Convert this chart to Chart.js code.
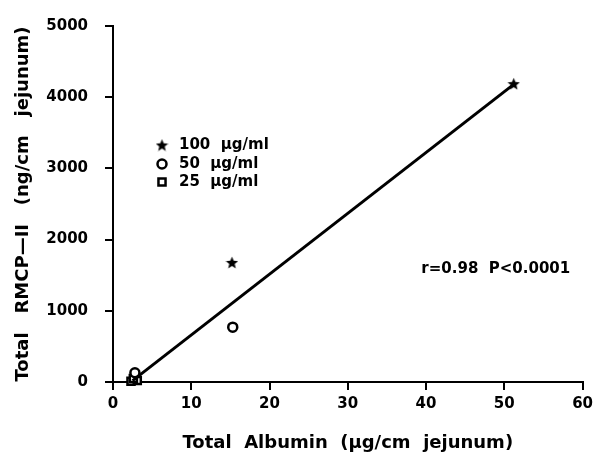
<!DOCTYPE html>
<html>
<head>
<meta charset="utf-8">
<script src="https://cdn.jsdelivr.net/npm/chart.js@4/dist/chart.umd.min.js"></script>
<style>
  html, body { margin: 0; padding: 0; background: #fff; }
</style>
</head>
<body>
<canvas id="albuminChart" width="598" height="457"></canvas>
<script>
// values
const dose100 = [{x: 15.2, y: 1680}, {x: 51.2, y: 4190}];
const dose50 = [{x: 2.8, y: 130}, {x: 15.3, y: 770}];
const dose25 = [{x: 2.3, y: 10}, {x: 3.1, y: 20}, {x: 2.6, y: 50}];
const fitLine = [{x: 2.5, y: 20}, {x: 51.2, y: 4180}];
const legendLabels = ['100  \u00b5g/ml', '50  \u00b5g/ml', '25  \u00b5g/ml'];
const xTicks = [0, 10, 20, 30, 40, 50, 60];
const yTicks = [0, 1000, 2000, 3000, 4000, 5000];
const statText = 'r=0.98  P<0.0001';

const FONT = 'DejaVu Sans';

function makeStar(size) {
    const c = document.createElement('canvas');
    c.width = c.height = size;
    const g = c.getContext('2d');
    g.fillStyle = '#000';
    g.beginPath();
    for (let i = 0; i < 10; i++) {
        const r = i % 2 ? size * 0.22 : size * 0.5;
        const a = -Math.PI / 2 + i * Math.PI / 5;
        g.lineTo(size / 2 + r * Math.cos(a), size * 0.55 + r * Math.sin(a));
    }
    g.closePath();
    g.fill();
    return c;
}
const starImg = makeStar(13);

const markerStyles = [
    {pointStyle: starImg, radius: 6, borderWidth: 0},
    {pointStyle: 'circle', radius: 4.5, borderWidth: 2.5},
    {pointStyle: 'rect', radius: 5, borderWidth: 2.5}
];

// legend and r/P text drawn inside the plot area
const insideText = {
    id: 'insideText',
    afterDraw(chart) {
        const ctx = chart.ctx;
        const area = chart.chartArea;
        ctx.save();
        ctx.textBaseline = 'middle';
        ctx.textAlign = 'left';
        ctx.font = 'bold 15px ' + FONT;
        const rowY = [119, 138, 156];
        legendLabels.forEach((lbl, i) => {
            const m = markerStyles[i];
            const px = area.left + 49, py = area.top + rowY[i];
            ctx.fillStyle = '#fff';
            ctx.strokeStyle = '#000';
            ctx.lineWidth = m.borderWidth;
            Chart.helpers.drawPoint(ctx, {
                pointStyle: m.pointStyle, radius: m.radius, rotation: 0,
                borderWidth: m.borderWidth
            }, px, py);
            ctx.fillStyle = '#000';
            ctx.fillText(lbl, area.left + 66, py);
        });
        const sx = chart.scales.x.getPixelForValue(39.4);
        const sy = chart.scales.y.getPixelForValue(1580);
        ctx.font = 'bold 15px ' + FONT;
        ctx.fillText(statText, sx, sy);
        ctx.restore();
    }
};

function pointSet(label, data, m) {
    return {
        label: label,
        data: data,
        pointStyle: m.pointStyle,
        pointRadius: m.radius,
        pointBorderWidth: m.borderWidth,
        pointBorderColor: '#000',
        pointBackgroundColor: m.pointStyle === 'circle' || m.pointStyle === 'rect' ? '#fff' : '#000',
        showLine: false,
        clip: false
    };
}

const tickFont = { family: FONT, weight: 'bold', size: 15 };

const ctx = document.getElementById('albuminChart').getContext('2d');
new Chart(ctx, {
    type: 'scatter',
    data: {
        datasets: [
            {
                label: 'fit',
                data: fitLine,
                showLine: true,
                borderColor: '#000',
                borderWidth: 3,
                pointRadius: 0,
                clip: false
            },
            pointSet(legendLabels[0], dose100, markerStyles[0]),
            pointSet(legendLabels[1], dose50, markerStyles[1]),
            pointSet(legendLabels[2], dose25, markerStyles[2])
        ]
    },
    options: {
        responsive: false,
        animation: false,
        devicePixelRatio: 1,
        layout: { padding: { top: 23, right: 11, bottom: 0, left: 0 } },
        plugins: { legend: { display: false }, tooltip: { enabled: false } },
        scales: {
            x: {
                type: 'linear',
                min: 0, max: 60,
                afterBuildTicks: (s) => { s.ticks = xTicks.map(v => ({value: v})); },
                afterFit: (s) => { s.height = 75; },
                grid: { drawOnChartArea: false, drawTicks: true, tickLength: 8, color: '#000', lineWidth: 2 },
                border: { display: true, color: '#000', width: 2 },
                ticks: { color: '#000', padding: 5, font: tickFont, callback: (v) => String(v) },
                title: {
                    display: true,
                    text: 'Total  Albumin  (\u00b5g/cm  jejunum)',
                    color: '#000',
                    padding: { top: 0, bottom: 3 },
                    font: { family: FONT, weight: 'bold', size: 18 }
                }
            },
            y: {
                type: 'linear',
                min: 0, max: 5000,
                afterBuildTicks: (s) => { s.ticks = yTicks.map(v => ({value: v})); },
                afterFit: (s) => { s.width = 113; },
                grid: { drawOnChartArea: false, drawTicks: true, tickLength: 8, color: '#000', lineWidth: 2 },
                border: { display: true, color: '#000', width: 2 },
                ticks: { color: '#000', padding: 17, font: tickFont, callback: (v) => String(v) },
                title: {
                    display: true,
                    text: 'Total   RMCP\u2014II   (ng/cm   jejunum)',
                    color: '#000',
                    padding: { top: 13, bottom: 0 },
                    font: { family: FONT, weight: 'bold', size: 18 }
                }
            }
        }
    },
    plugins: [insideText]
});
</script>
</body>
</html>
